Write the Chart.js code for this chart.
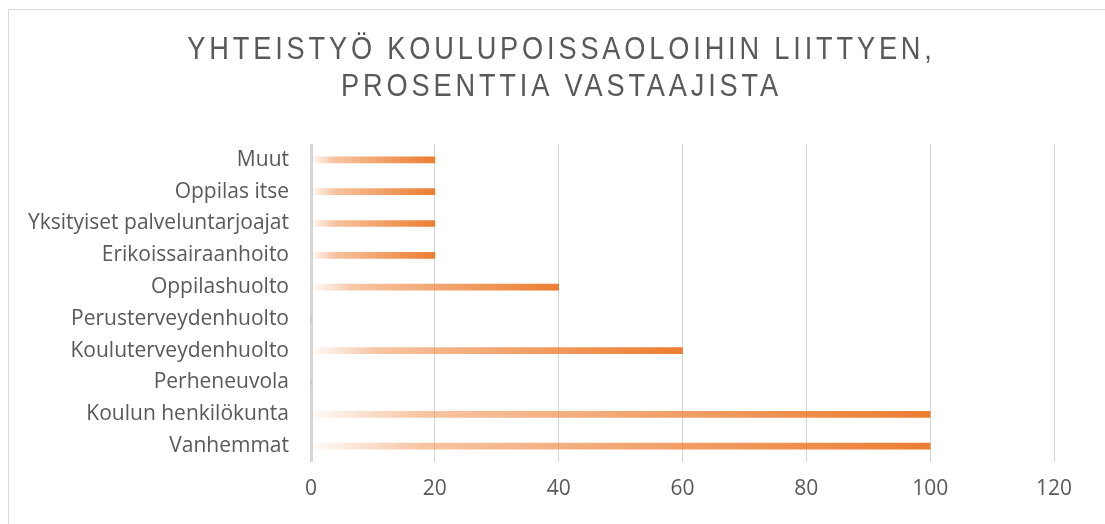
<!DOCTYPE html>
<html>
<head>
<meta charset="utf-8">
<script src="https://cdn.jsdelivr.net/npm/chart.js@4.4.1/dist/chart.umd.min.js"></script>
<style>
  html, body { margin: 0; padding: 0; background: #fff; }
  #frame { position: absolute; left: 8px; top: 9px; width: 1110px; height: 530px; border: 1px solid #d9d9d9; box-sizing: border-box; }
  #wrap { position: absolute; left: 0; top: 0; width: 1105px; height: 524px; }
</style>
</head>
<body>
<div id="frame"></div>
<div id="wrap"><canvas id="c" width="1105" height="524"></canvas></div>
<script>
const titleLines = ["YHTEISTYÖ KOULUPOISSAOLOIHIN LIITTYEN,", "PROSENTTIA VASTAAJISTA"];
const categories = ["Muut", "Oppilas itse", "Yksityiset palveluntarjoajat", "Erikoissairaanhoito", "Oppilashuolto", "Perusterveydenhuolto", "Kouluterveydenhuolto", "Perheneuvola", "Koulun henkilökunta", "Vanhemmat"];
const values = [20, 20, 20, 20, 40, 0, 60, 0, 100, 100];
const xTicks = [0, 20, 40, 60, 80, 100, 120];

const FONT = "'Open Sans', 'Noto Sans', sans-serif";

function barGradient(ctx) {
  const chart = ctx.chart;
  const area = chart.chartArea;
  if (!area || ctx.type !== 'data') return 'rgba(237,125,49,0.8)';
  const xs = chart.scales.x;
  const v = ctx.raw || 0;
  const x0 = xs.getPixelForValue(0);
  let x1 = xs.getPixelForValue(v);
  if (x1 - x0 < 1) x1 = x0 + 1;
  const g = chart.ctx.createLinearGradient(x0, 0, x1, 0);
  g.addColorStop(0, 'rgba(237,125,49,0.03)');
  g.addColorStop(0.18, 'rgba(237,125,49,0.45)');
  g.addColorStop(0.5, 'rgba(237,125,49,0.68)');
  g.addColorStop(1, 'rgba(237,125,49,1)');
  return g;
}

const titlePlugin = {
  id: 'spacedTitle',
  afterDraw(chart) {
    const c = chart.ctx;
    c.save();
    c.fillStyle = '#595959';
    c.font = "32px 'Liberation Sans', Arial, sans-serif";
    c.textAlign = 'left';
    c.textBaseline = 'alphabetic';
    const centerX = 561.5;
    const baselines = [59, 96];
    const sx = 0.85;
    if ('letterSpacing' in c) c.letterSpacing = '4.5px';
    titleLines.forEach((line, i) => {
      const w = c.measureText(line).width * sx;
      c.save();
      c.translate(centerX - w / 2, baselines[i]);
      c.scale(sx, 1);
      c.fillText(line, 0, 0);
      c.restore();
    });
    c.restore();
  }
};

new Chart(document.getElementById('c'), {
  type: 'bar',
  data: {
    labels: categories,
    datasets: [{
      data: values,
      backgroundColor: barGradient,
      borderWidth: 0,
      barThickness: 6
    }]
  },
  plugins: [titlePlugin],
  options: {
    indexAxis: 'y',
    responsive: false,
    animation: false,
    layout: { padding: { left: 0, right: 51, top: 144, bottom: 0 } },
    plugins: {
      legend: { display: false },
      tooltip: { enabled: false },
      title: { display: false }
    },
    scales: {
      x: {
        min: 0, max: 120,
        afterBuildTicks: (s) => { s.ticks = xTicks.map(v => ({ value: v })); },
        afterFit: (s) => { s.height = 62; },
        border: { display: false },
        grid: {
          color: '#d6d6d6',
          lineWidth: (c) => c.index === 0 ? 3 : 1,
          drawTicks: false
        },
        ticks: { color: '#595959', font: { family: FONT, size: 21 }, padding: 14 }
      },
      y: {
        afterFit: (s) => { s.width = 311; },
        border: { display: false },
        grid: { display: false, drawTicks: false },
        ticks: { color: '#595959', font: { family: FONT, size: 21 }, padding: 22, autoSkip: false }
      }
    }
  }
});
</script>
</body>
</html>
